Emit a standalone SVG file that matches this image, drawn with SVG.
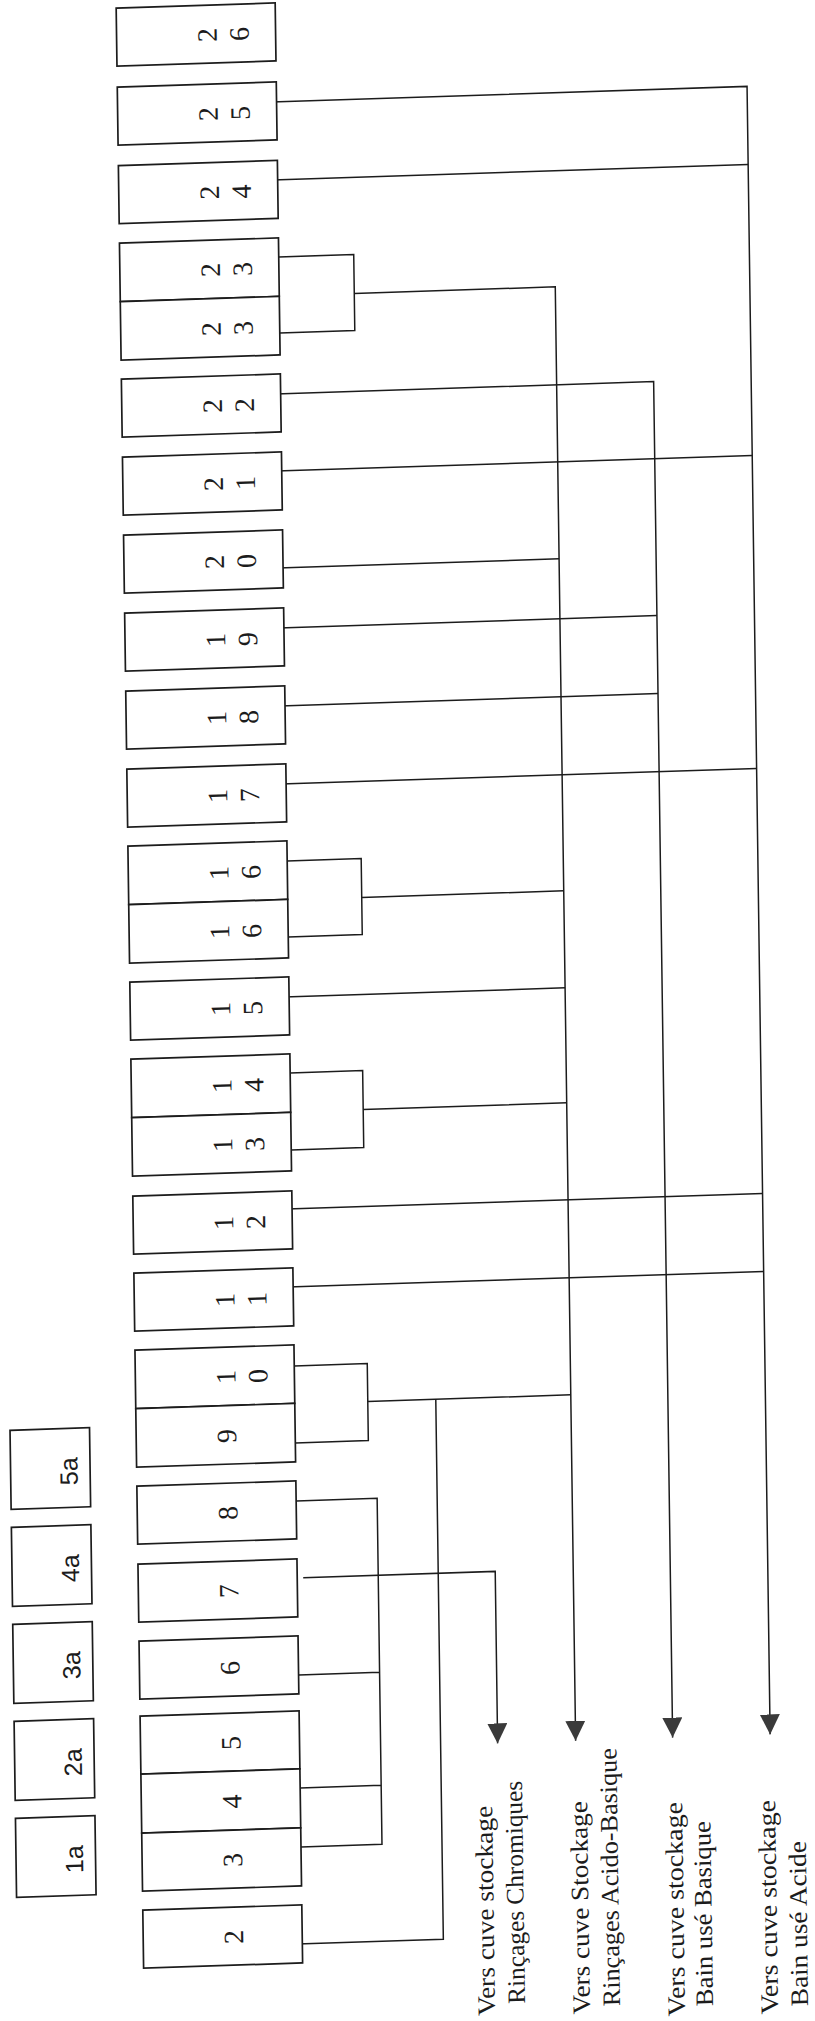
<svg xmlns="http://www.w3.org/2000/svg" width="815" height="2021" viewBox="0 0 815 2021">
<style>
.box{fill:#fff;stroke:#1c1c1c;stroke-width:1.7}
.ln{fill:none;stroke:#1c1c1c;stroke-width:1.5}
.dg{font-family:"Liberation Serif",serif;font-size:28px;fill:#1c1c1c;text-anchor:middle}
.sm{font-family:"Liberation Sans",sans-serif;font-size:25px;fill:#1c1c1c;text-anchor:middle}
.lb{font-family:"Liberation Serif",serif;font-size:25px;fill:#1c1c1c}
</style>
<defs>
<marker id="arr" viewBox="0 0 20 20" markerWidth="20" markerHeight="20" refX="20" refY="10" orient="auto" markerUnits="userSpaceOnUse">
<path d="M0,0 L20,10 L0,20 Z" fill="#3a3a3a"/>
</marker>
</defs>
<rect width="815" height="2021" fill="#fff"/>
<g transform="matrix(1,-0.033,0.014,1,0,0)">
<g id="connectors">
<path class="ln" d="M270,111 H745.5 V1759" marker-end="url(#arr)"/>
<path class="ln" d="M270,403 H648 V1759" marker-end="url(#arr)"/>
<path class="ln" d="M350,305 H551 V1759" marker-end="url(#arr)"/>
<path class="ln" d="M281,1587 H473 V1759" marker-end="url(#arr)"/>
<path class="ln" d="M270,189 H745.5"/>
<path class="ln" d="M275,266 H350 V342 H275"/>
<path class="ln" d="M270,480 H745.5"/>
<path class="ln" d="M270,577 H551"/>
<path class="ln" d="M270,637 H648"/>
<path class="ln" d="M270,715 H648"/>
<path class="ln" d="M270,793 H745.5"/>
<path class="ln" d="M275,870 H349 V946 H275 M349,909 H551"/>
<path class="ln" d="M270,1006 H551"/>
<path class="ln" d="M275,1082 H347.5 V1159 H275 M347.5,1121 H551"/>
<path class="ln" d="M270,1218 H745.5"/>
<path class="ln" d="M270,1296 H745.5"/>
<path class="ln" d="M275,1375 H348 V1452 H275 M348,1413 H551"/>
<path class="ln" d="M268,1510 H356 V1856 H275 M268,1684 H356 M275,1797 H356"/>
<path class="ln" d="M270,1953 H416 V1413"/>
</g>
<g id="n26"><rect class="box" x="116" y="12" width="159" height="58"/><text class="dg" transform="translate(216,42) rotate(-90)">2</text><text class="dg" transform="translate(248,42) rotate(-90)">6</text></g>
<g id="n25"><rect class="box" x="116" y="91" width="159" height="58"/><text class="dg" transform="translate(216,121) rotate(-90)">2</text><text class="dg" transform="translate(248,121) rotate(-90)">5</text></g>
<g id="n24"><rect class="box" x="116" y="169.5" width="159" height="58"/><text class="dg" transform="translate(216,199.5) rotate(-90)">2</text><text class="dg" transform="translate(248,199.5) rotate(-90)">4</text></g>
<g id="n23"><rect class="box" x="116" y="247" width="159" height="58.5"/><rect class="box" x="116" y="305.5" width="159" height="58.5"/><text class="dg" transform="translate(216,277) rotate(-90)">2</text><text class="dg" transform="translate(248,277) rotate(-90)">3</text><text class="dg" transform="translate(216,336) rotate(-90)">2</text><text class="dg" transform="translate(248,336) rotate(-90)">3</text></g>
<g id="n22"><rect class="box" x="116" y="383" width="159" height="58"/><text class="dg" transform="translate(216,413) rotate(-90)">2</text><text class="dg" transform="translate(248,413) rotate(-90)">2</text></g>
<g id="n21"><rect class="box" x="116" y="461" width="159" height="58"/><text class="dg" transform="translate(216,491) rotate(-90)">2</text><text class="dg" transform="translate(248,491) rotate(-90)">1</text></g>
<g id="n20"><rect class="box" x="116" y="539" width="159" height="58"/><text class="dg" transform="translate(216,569) rotate(-90)">2</text><text class="dg" transform="translate(248,569) rotate(-90)">0</text></g>
<g id="n19"><rect class="box" x="116" y="617" width="159" height="58"/><text class="dg" transform="translate(216,647) rotate(-90)">1</text><text class="dg" transform="translate(248,647) rotate(-90)">9</text></g>
<g id="n18"><rect class="box" x="116" y="695" width="159" height="58"/><text class="dg" transform="translate(216,725) rotate(-90)">1</text><text class="dg" transform="translate(248,725) rotate(-90)">8</text></g>
<g id="n17"><rect class="box" x="116" y="773" width="159" height="58"/><text class="dg" transform="translate(216,803) rotate(-90)">1</text><text class="dg" transform="translate(248,803) rotate(-90)">7</text></g>
<g id="n16"><rect class="box" x="116" y="850" width="159" height="58.5"/><rect class="box" x="116" y="908.5" width="159" height="58.5"/><text class="dg" transform="translate(216,880) rotate(-90)">1</text><text class="dg" transform="translate(248,880) rotate(-90)">6</text><text class="dg" transform="translate(216,939) rotate(-90)">1</text><text class="dg" transform="translate(248,939) rotate(-90)">6</text></g>
<g id="n15"><rect class="box" x="116" y="986" width="159" height="58"/><text class="dg" transform="translate(216,1016) rotate(-90)">1</text><text class="dg" transform="translate(248,1016) rotate(-90)">5</text></g>
<g id="n14-13"><rect class="box" x="116" y="1063" width="159" height="58.5"/><rect class="box" x="116" y="1121.5" width="159" height="58.5"/><text class="dg" transform="translate(216,1093) rotate(-90)">1</text><text class="dg" transform="translate(248,1093) rotate(-90)">4</text><text class="dg" transform="translate(216,1152) rotate(-90)">1</text><text class="dg" transform="translate(248,1152) rotate(-90)">3</text></g>
<g id="n12"><rect class="box" x="116" y="1200" width="159" height="58"/><text class="dg" transform="translate(216,1230) rotate(-90)">1</text><text class="dg" transform="translate(248,1230) rotate(-90)">2</text></g>
<g id="n11"><rect class="box" x="116" y="1277" width="159" height="58"/><text class="dg" transform="translate(216,1307) rotate(-90)">1</text><text class="dg" transform="translate(248,1307) rotate(-90)">1</text></g>
<g id="n10-9"><rect class="box" x="116" y="1354" width="159" height="58.5"/><rect class="box" x="116" y="1412.5" width="159" height="58.5"/><text class="dg" transform="translate(216,1384) rotate(-90)">1</text><text class="dg" transform="translate(248,1384) rotate(-90)">0</text><text class="dg" transform="translate(216,1443) rotate(-90)">9</text></g>
<g id="n8"><rect class="box" x="116" y="1490" width="159" height="58"/><text class="dg" transform="translate(216,1520) rotate(-90)">8</text></g>
<g id="n7"><rect class="box" x="116" y="1568" width="159" height="58"/><text class="dg" transform="translate(216,1598) rotate(-90)">7</text></g>
<g id="n6"><rect class="box" x="116" y="1645" width="159" height="58"/><text class="dg" transform="translate(216,1675) rotate(-90)">6</text></g>
<g id="n5-4-3"><rect class="box" x="116" y="1720" width="159" height="58"/><rect class="box" x="116" y="1778" width="159" height="59"/><rect class="box" x="116" y="1837" width="159" height="58"/><text class="dg" transform="translate(216,1750) rotate(-90)">5</text><text class="dg" transform="translate(216,1808.5) rotate(-90)">4</text><text class="dg" transform="translate(216,1867) rotate(-90)">3</text></g>
<g id="n2"><rect class="box" x="116" y="1914" width="159" height="58"/><text class="dg" transform="translate(216,1944) rotate(-90)">2</text></g>
<g id="n5a"><rect class="box" x="-10" y="1430" width="79.5" height="79"/><text class="sm" transform="translate(57,1473) rotate(-90)">5a</text></g>
<g id="n4a"><rect class="box" x="-10" y="1527" width="79.5" height="79"/><text class="sm" transform="translate(57,1570) rotate(-90)">4a</text></g>
<g id="n3a"><rect class="box" x="-10" y="1624" width="79.5" height="79"/><text class="sm" transform="translate(57,1667) rotate(-90)">3a</text></g>
<g id="n2a"><rect class="box" x="-10" y="1721" width="79.5" height="79"/><text class="sm" transform="translate(57,1764) rotate(-90)">2a</text></g>
<g id="n1a"><rect class="box" x="-10" y="1818" width="79.5" height="79"/><text class="sm" transform="translate(57,1861) rotate(-90)">1a</text></g>
<g id="labels">
<text class="lb" transform="translate(466.6,2031) rotate(-90)" textLength="210" lengthAdjust="spacingAndGlyphs">Vers cuve stockage</text>
<text class="lb" transform="translate(496.7,2020) rotate(-90)" textLength="223" lengthAdjust="spacingAndGlyphs">Rinçages Chromiques</text>
<text class="lb" transform="translate(561.5,2032.5) rotate(-90)" textLength="213" lengthAdjust="spacingAndGlyphs">Vers cuve Stockage</text>
<text class="lb" transform="translate(591.6,2025.5) rotate(-90)" textLength="258" lengthAdjust="spacingAndGlyphs">Rinçages Acido-Basique</text>
<text class="lb" transform="translate(656.5,2037.6) rotate(-90)" textLength="214" lengthAdjust="spacingAndGlyphs">Vers cuve stockage</text>
<text class="lb" transform="translate(684.6,2028.5) rotate(-90)" textLength="185" lengthAdjust="spacingAndGlyphs">Bain usé Basique</text>
<text class="lb" transform="translate(749.5,2038.7) rotate(-90)" textLength="214" lengthAdjust="spacingAndGlyphs">Vers cuve stockage</text>
<text class="lb" transform="translate(779.6,2031.7) rotate(-90)" textLength="165" lengthAdjust="spacingAndGlyphs">Bain usé Acide</text>
</g>
</g>
</svg>
